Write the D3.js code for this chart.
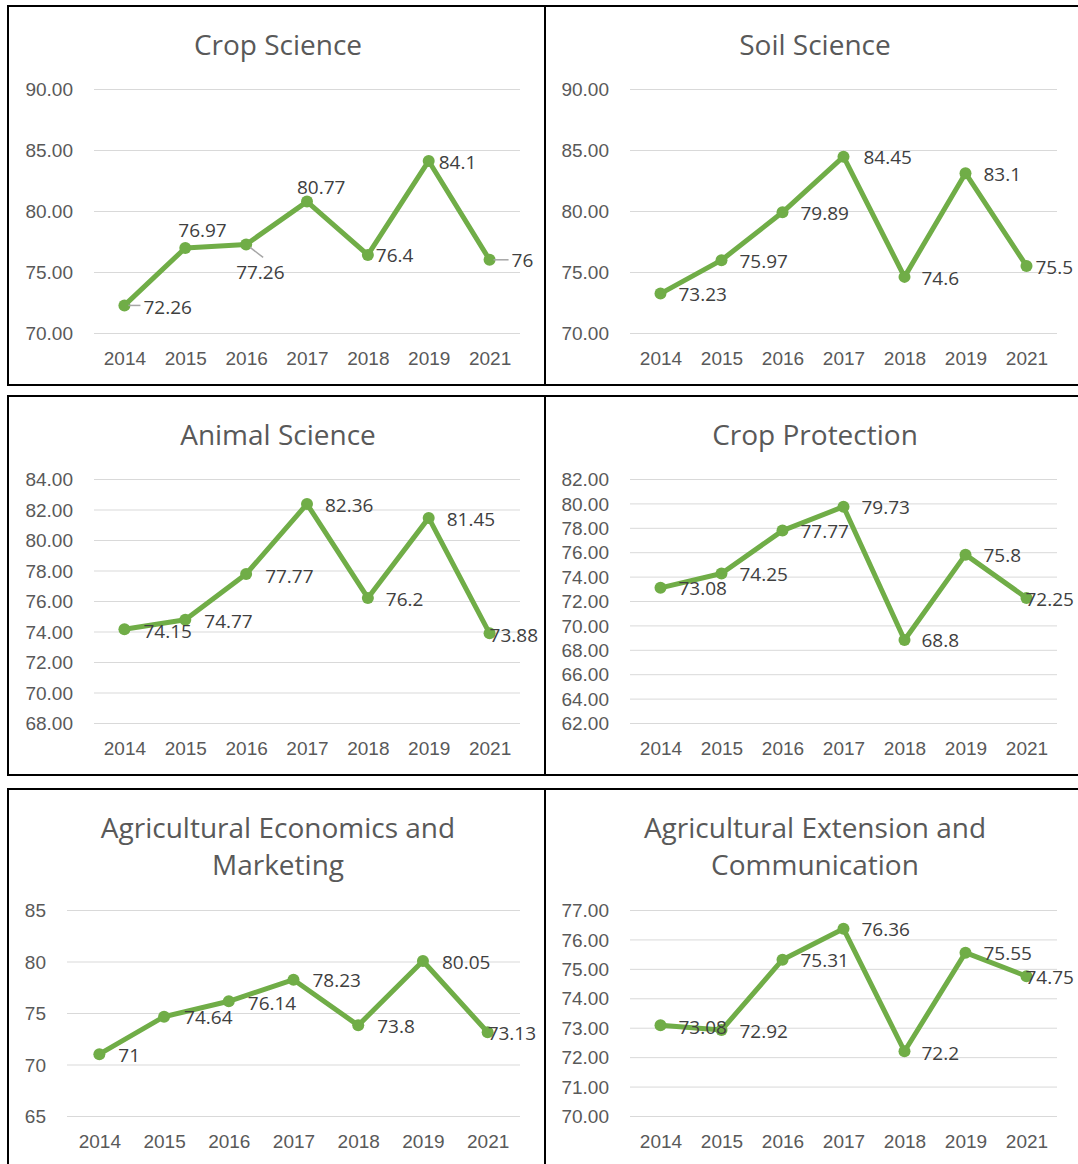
<!DOCTYPE html>
<html>
<head>
<meta charset="utf-8">
<script src="https://cdn.jsdelivr.net/npm/d3@7"></script>
<style>
  body { margin: 0; background: #fff; }
  svg { display: block; font-family: "Open Sans", sans-serif; }
  .tick text { fill: #595959; font-size: 19px; }
  .grid line { stroke: #d9d9d9; stroke-width: 1; }
  .grid .domain { display: none; }
</style>
</head>
<body>
<svg id="charts" width="1078" height="1164"></svg>
<script>
var years = ["2014", "2015", "2016", "2017", "2018", "2019", "2021"];

var cropScience    = [72.26, 76.97, 77.26, 80.77, 76.4, 84.1, 76];
var soilScience    = [73.23, 75.97, 79.89, 84.45, 74.6, 83.1, 75.5];
var animalScience  = [74.15, 74.77, 77.77, 82.36, 76.2, 81.45, 73.88];
var cropProtection = [73.08, 74.25, 77.77, 79.73, 68.8, 75.8, 72.25];
var agEconomics    = [71, 74.64, 76.14, 78.23, 73.8, 80.05, 73.13];
var agExtension    = [73.08, 72.92, 75.31, 76.36, 72.2, 75.55, 74.75];

var cropScienceTicks    = [70, 75, 80, 85, 90];
var soilScienceTicks    = [70, 75, 80, 85, 90];
var animalScienceTicks  = [68, 70, 72, 74, 76, 78, 80, 82, 84];
var cropProtectionTicks = [62, 64, 66, 68, 70, 72, 74, 76, 78, 80, 82];
var agEconomicsTicks    = [65, 70, 75, 80, 85];
var agExtensionTicks    = [70, 71, 72, 73, 74, 75, 76, 77];

// label placement: [dx, dy, leader]
var std = [18, 1, 0];
var panels = [
  { title: ["Crop Science"], values: cropScience, ticks: cropScienceTicks, fmt: ".2f",
    box: [8, 6], left: 86,
    labels: [[19, 2, 1], [-7, -18, 0], [-10, 28, 1], [-10, -14, 0], [8, 0, 0], [10, 1, 0], [22, 1, 1]] },
  { title: ["Soil Science"], values: soilScience, ticks: soilScienceTicks, fmt: ".2f",
    box: [545, 6], left: 85,
    labels: [std, std, std, [20, 1, 0], [17, 1, 0], std, [9, 1, 0]] },
  { title: ["Animal Science"], values: animalScience, ticks: animalScienceTicks, fmt: ".2f",
    box: [8, 396], left: 86,
    labels: [[19, 2, 0], [19, 2, 0], [19, 2, 0], [18, 1, 0], std, std, [0, 2, 0]] },
  { title: ["Crop Protection"], values: cropProtection, ticks: cropProtectionTicks, fmt: ".2f",
    box: [545, 396], left: 85,
    labels: [std, std, std, std, [17, 0, 0], std, [-1, 1, 0]] },
  { title: ["Agricultural Economics and", "Marketing"], values: agEconomics, ticks: agEconomicsTicks, fmt: "d",
    box: [8, 789], left: 59,
    labels: [[19, 1, 0], [20, 1, 0], [19, 2, 0], [19, 1, 0], [19, 1, 0], [19, 1, 0], [0, 1, 0]] },
  { title: ["Agricultural Extension and", "Communication"], values: agExtension, ticks: agExtensionTicks, fmt: ".2f",
    box: [545, 789], left: 85,
    labels: [[18, 2, 0], std, std, std, [17, 2, 0], std, [-1, 1, 0]] }
];

var svg = d3.select("#charts");
var green = "#70ad47";

panels.forEach(function(p) {
  var bx = p.box[0], by = p.box[1];
  var bw = bx < 100 ? 537 : 540;
  var bh = by > 700 ? 380 : 379;

  var g = svg.append("g");

  g.append("rect")
    .attr("x", bx).attr("y", by)
    .attr("width", bw).attr("height", bh)
    .attr("fill", "none")
    .attr("stroke", "#000")
    .attr("stroke-width", 2);

  var twoLine = p.title.length > 1;
  var top = by + (twoLine ? 121 : 83),
    bottom = by + 327,
    x0 = bx + p.left,
    x1 = bx + 512;

  var x = d3.scalePoint().domain(years).range([x0, x1]).padding(0.5);
  var y = d3.scaleLinear()
    .domain([d3.min(p.ticks), d3.max(p.ticks)])
    .range([bottom, top]);

  // title
  g.append("text")
    .attr("text-anchor", "middle")
    .attr("fill", "#595959")
    .style("font-size", "28px")
    .selectAll("tspan").data(p.title)
    .enter().append("tspan")
    .attr("x", bx + 270)
    .attr("y", (d, i) => by + 39 + i * 37)
    .attr("dy", "0.35em")
    .text(d => d);

  // gridlines + y labels
  g.append("g")
    .attr("class", "grid")
    .attr("transform", "translate(" + x0 + ",0)")
    .call(d3.axisLeft(y).tickValues(p.ticks).tickFormat(d3.format(p.fmt))
      .tickSize(-(x1 - x0)).tickPadding(21))
    .selectAll(".tick text").attr("dy", "0.35em");

  // x labels
  var xa = g.append("g")
    .attr("transform", "translate(0," + bottom + ")")
    .call(d3.axisBottom(x).tickSize(0).tickPadding(19));
  xa.select(".domain").remove();

  var line = d3.line().x((d, i) => x(years[i])).y(d => y(d));

  g.append("path")
    .datum(p.values)
    .attr("d", line)
    .attr("fill", "none")
    .attr("stroke", green)
    .attr("stroke-width", 5)
    .attr("stroke-linejoin", "round");

  g.selectAll("circle.pt").data(p.values)
    .enter().append("circle")
    .attr("class", "pt")
    .attr("cx", (d, i) => x(years[i]))
    .attr("cy", d => y(d))
    .attr("r", 6)
    .attr("fill", green);

  // leader lines
  p.values.forEach(function(d, i) {
    var lab = p.labels[i];
    if (!lab[2]) return;
    var px = x(years[i]), py = y(d);
    var below = lab[1] > 10;
    g.append("line")
      .attr("x1", px + 4)
      .attr("y1", py + (below ? 3 : 0))
      .attr("x2", below ? px + 17 : px + lab[0] - 3)
      .attr("y2", below ? py + 13 : py)
      .attr("stroke", "#a6a6a6")
      .attr("stroke-width", 1.5);
  });

  g.selectAll("text.val").data(p.values)
    .enter().append("text")
    .attr("class", "val")
    .attr("x", (d, i) => x(years[i]) + p.labels[i][0])
    .attr("y", (d, i) => y(d) + p.labels[i][1])
    .attr("dy", "0.35em")
    .attr("fill", "#404040")
    .style("font-size", "19px")
    .text(d => d);
});
</script>
</body>
</html>
